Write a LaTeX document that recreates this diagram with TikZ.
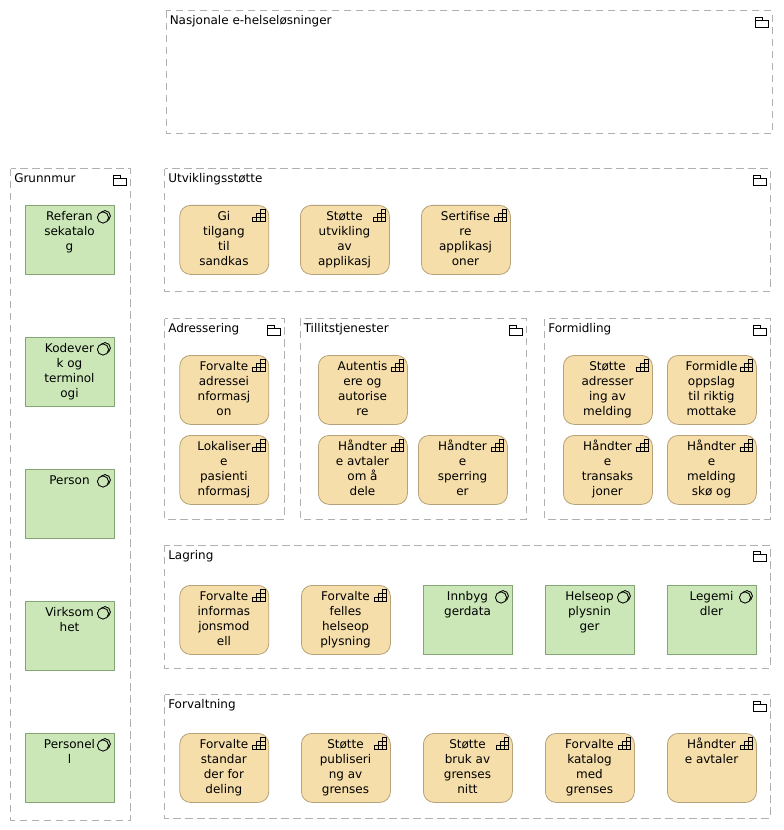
\documentclass[tikz,border=0pt]{standalone}
\usepackage{fontspec}
\setmainfont{DejaVu Sans}
\definecolor{fnfill}{HTML}{F5DEAA}
\definecolor{fnline}{HTML}{B5A278}
\definecolor{svfill}{HTML}{CBE7B8}
\definecolor{svline}{HTML}{86A576}
\definecolor{grpline}{HTML}{B0B0B0}
\tikzset{
  grpbox/.style={draw=grpline,line width=0.75pt,dash pattern=on 5.5pt off 3.5pt,fill=none},
  grplabel/.style={anchor=base west,inner sep=0pt,font=\fontsize{9pt}{11.25pt}\selectfont},
  fnbox/.style={draw=fnline,fill=fnfill,line width=0.6pt,rounded corners=8pt,minimum width=66.75pt,minimum height=51.75pt,anchor=north west,inner sep=0pt},
  svbox/.style={draw=svline,fill=svfill,line width=0.6pt,minimum width=66.75pt,minimum height=51.75pt,anchor=north west,inner sep=0pt},
  boxtext/.style={anchor=north,align=center,inner sep=0pt,font=\fontsize{9pt}{11.25pt}\selectfont},
  iconline/.style={draw=black,line width=0.5pt},
}
\newcommand{\grp}[6]{% name x1 y1 x2 y2 label
  \node[grplabel] (#1) at (#2+3.5,#3+14) {#6};
  \draw[grpbox] (#2,#3) rectangle (#4,#5);
  \begin{scope}[shift={(#4-16.8,#3+6.2)}]
    \draw[iconline] (0,0) -- (7,0) -- (7,3.4) -- (13.3,3.4) -- (13.3,10) -- (0,10) -- cycle (0,3.4) -- (7,3.4);
  \end{scope}
}
\newcommand{\fnb}[4]{% name x y text
  \node[fnbox] (#1) at (#2,#3) {};
  \node[boxtext] (#1t) at (#2+44.5,#3+4.5) {\rule{0pt}{8pt}#4};
  \begin{scope}[shift={(#2+73,#3+4.2)}]
    \draw[iconline] (0,12.5) -- (12.5,12.5) -- (12.5,0) -- (8.3,0) -- (8.3,12.5)
      (8.3,0) -- (8.3,4.2) -- (4.2,4.2) -- (4.2,12.5)
      (12.5,4.2) -- (4.2,4.2)
      (4.2,8.3) -- (0,8.3) -- (0,12.5)
      (12.5,8.3) -- (0,8.3);
  \end{scope}
}
\newcommand{\svb}[4]{% name x y text
  \node[svbox] (#1) at (#2,#3) {};
  \node[boxtext] (#1t) at (#2+44.5,#3+4.5) {\rule{0pt}{8pt}#4};
  \draw[iconline,line width=0.65pt] (#2+80,#3+11) circle (5.4);
  \draw[iconline,line width=0.65pt,fill=svfill] (#2+78,#3+12.5) circle (5.6);
}
\begin{document}
\begin{tikzpicture}[x=0.75pt,y=-0.75pt]
\useasboundingbox (0,0) rectangle (783,830);
\grp{gNas}{166}{11}{772}{133.5}{Nasjonale e-helseløsninger}
\grp{gGru}{10.5}{169}{130}{820}{Grunnmur}
\grp{gUtv}{164.5}{169}{770}{291}{Utviklingsstøtte}
\grp{gAdr}{164.5}{318.8}{284}{519}{Adressering}
\grp{gTil}{300}{318.8}{526}{519}{Tillitstjenester}
\grp{gFor}{544.5}{318.8}{770}{519}{Formidling}
\grp{gLag}{164.5}{545}{770}{668}{Lagring}
\grp{gFvl}{164.5}{694.8}{770}{818}{Forvaltning}
% Grunnmur
\svb{s1}{25}{205}{Referan\\sekatalo\\g}
\svb{s2}{25}{337}{Kodever\\k og\\terminol\\ogi}
\svb{s3}{25}{469}{Person}
\svb{s4}{25}{601}{Virksom\\het}
\svb{s5}{25}{733}{Personel\\l}
% Utviklingsstotte
\fnb{u1}{179.4}{205}{Gi\\tilgang\\til\\sandkas}
\fnb{u2}{300}{205}{Støtte\\utvikling\\av\\applikasj}
\fnb{u3}{421}{205}{Sertifise\\re\\applikasj\\oner}
% Adressering
\fnb{a1}{179.4}{355}{Forvalte\\adressei\\nformasj\\on}
\fnb{a2}{179.4}{435}{Lokaliser\\e\\pasienti\\nformasj}
% Tillitstjenester
\fnb{t1}{318}{355}{Autentis\\ere og\\autorise\\re}
\fnb{t2}{318}{435}{Håndter\\e avtaler\\om å\\dele}
\fnb{t3}{418}{435}{Håndter\\e\\sperring\\er}
% Formidling
\fnb{f1}{563}{355}{Støtte\\adresser\\ing av\\melding}
\fnb{f2}{667}{355}{Formidle\\oppslag\\til riktig\\mottake}
\fnb{f3}{563}{435}{Håndter\\e\\transaks\\joner}
\fnb{f4}{667}{435}{Håndter\\e\\melding\\skø og}
% Lagring
\fnb{l1}{179.4}{585}{Forvalte\\informas\\jonsmod\\ell}
\fnb{l2}{301}{585}{Forvalte\\felles\\helseop\\plysning}
\svb{l3}{423}{585}{Innbyg\\gerdata}
\svb{l4}{545}{585}{Helseop\\plysnin\\ger}
\svb{l5}{667}{585}{Legemi\\dler}
% Forvaltning
\fnb{v1}{179.4}{733}{Forvalte\\standar\\der for\\deling}
\fnb{v2}{301}{733}{Støtte\\publiseri\\ng av\\grenses}
\fnb{v3}{423}{733}{Støtte\\bruk av\\grenses\\nitt}
\fnb{v4}{545}{733}{Forvalte\\katalog\\med\\grenses}
\fnb{v5}{667}{733}{Håndter\\e avtaler}
\end{tikzpicture}
\end{document}
